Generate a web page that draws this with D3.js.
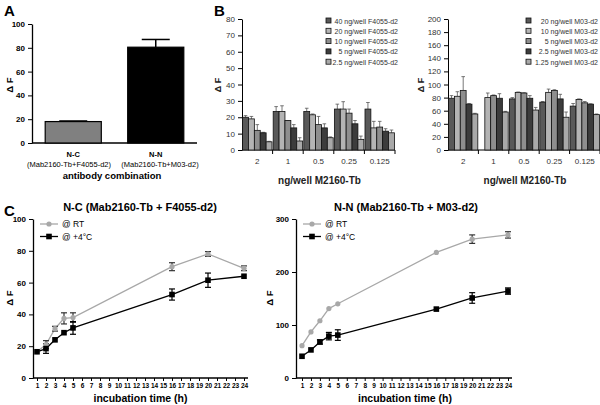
<!DOCTYPE html>
<html><head><meta charset="utf-8">
<script src="https://cdn.jsdelivr.net/npm/d3@7"></script>
<style>
body{margin:0;background:#fff}
svg{display:block;font-family:Arial,"Liberation Sans",Helvetica,sans-serif}
</style></head>
<body><svg id="c" width="600" height="405"></svg>
<script>
// ---------- DATA ----------
// Panel A
const aCategories = ["N-C", "N-N"];
const aSubLabels = ["(Mab2160-Tb+F4055-d2)", "(Mab2160-Tb+M03-d2)"];
const aValues = [18, 80.5];
const aErrors = [18.5, 87];
const aTicks = [0, 20, 40, 60, 80, 100];

// Panel B
const bGroups = ["2", "1", "0.5", "0.25", "0.125"];
const bLeftSeries = ["40 ng/well F4055-d2", "20 ng/well F4055-d2", "10 ng/well F4055-d2", "5 ng/well F4055-d2", "2.5 ng/well F4055-d2"];
// values[series][group]
const bLeftValues = [
  [20, 23.5, 23.5, 25, 25],
  [19, 23.5, 21.5, 25, 13.5],
  [12, 18, 15.5, 22.5, 14],
  [10.5, 13.5, 13.5, 16, 11.5],
  [5, 5.5, 7.5, 6.5, 10.5]
];
const bLeftErrTop = [
  [21, 26.5, 25.5, 28, 29],
  [20.5, 27, 22, 29.5, 17.5],
  [15.5, 18, 20.5, 25, 17.5],
  [10.8, 15.5, 16, 18, 13],
  [5.3, 7.5, 8, 8.5, 12.2]
];
const bLeftTicks = [0, 10, 20, 30, 40, 50, 60, 70, 80];

const bRightSeries = ["20 ng/well M03-d2", "10 ng/well M03-d2", "5 ng/well M03-d2", "2.5 ng/well M03-d2", "1.25 ng/well M03-d2"];
const bRightValues = [
  [79, null, 78, 73, 67],
  [82, 80, 88, 88, 77],
  [91, 83, 87, 91, 72],
  [70, 79, 79, 78, 70],
  [55, 58, 61, 50, 54]
];
const bRightErrTop = [
  [83, null, 80, 74, 71],
  [89, 87, 88.5, 93, 78],
  [112, 84, 87.5, 92, 74],
  [71, 86, 83, 85, 70.5],
  [56, 59, 65, 58, 55]
];
const bRightTicks = [0, 20, 40, 60, 80, 100, 120, 140, 160, 180, 200];
const bColors = ["#595959", "#b4b4b4", "#8e8e8e", "#3c3c3c", "#a9a9a9"];

// Panel C
const cHours = [1, 2, 3, 4, 5, 16, 20, 24];
const cHourTicks = d3.range(1, 25);
const cSeriesNames = ["@ RT", "@ +4°C"];
const cLeftRT = [16.5, 21, 31, 37.5, 38, 70, 78, 69];
const cLeftRTErr = [0.5, 2.5, 1.5, 3.5, 3, 2.5, 1.5, 1.5];
const cLeftCold = [16.5, 18.5, 24, 28.5, 31.5, 52.5, 61.5, 64];
const cLeftColdErr = [0.5, 3, 1, 0.5, 4, 3.5, 4.5, 1];
const cLeftTicks = [0, 20, 40, 60, 80, 100];
const cRightRT = [61, 87, 108, 131, 140, 237, 262, 270];
const cRightRTErr = [1, 1, 1, 1, 1, 1, 8, 6];
const cRightCold = [41, 53, 68, 79, 81, 130, 151, 164];
const cRightColdErr = [1, 1, 4, 7, 10, 1, 10, 6];
const cRightTicks = [0, 100, 200, 300];

// ---------- DRAW ----------
const svg = d3.select("#c");

function letter(t, x, y) {
  svg.append("text").attr("x", x).attr("y", y).attr("font-size", 15).attr("font-weight", "bold").text(t);
}
letter("A", 4, 16); letter("B", 214, 16); letter("C", 4, 216);

function styleAxis(g, size, weight, color) {
  g.selectAll("text").attr("font-size", size).attr("font-weight", weight).attr("fill", color)
    .attr("font-family", "Arial,'Liberation Sans',sans-serif");
  g.selectAll("line").attr("stroke", "#000");
  g.selectAll("path").attr("stroke", "#000");
}

// ----- Panel A -----
(function () {
  const y = d3.scaleLinear().domain([0, 100]).range([143, 24]);
  const x = d3.scaleBand().domain(aCategories).range([32, 197]).paddingInner(0.32).paddingOuter(0.16);
  const g = svg.append("g");
  const ya = g.append("g").attr("transform", "translate(32,0)")
    .call(d3.axisLeft(y).tickValues(aTicks).tickSize(4).tickSizeOuter(0).tickPadding(3));
  styleAxis(ya, 8, "bold", "#000");
  ya.select(".domain").attr("stroke-width", 1.3);
  g.append("line").attr("x1", 32).attr("x2", 197).attr("y1", 143).attr("y2", 143).attr("stroke", "#000").attr("stroke-width", 1.3);
  const fills = ["#808080", "#000000"];
  const labelX = [69, 160];
  aCategories.forEach((c, i) => {
    g.append("line").attr("x1", x(c) + x.bandwidth() / 2).attr("x2", x(c) + x.bandwidth() / 2)
      .attr("y1", y(aValues[i])).attr("y2", y(aErrors[i])).attr("stroke", "#000").attr("stroke-width", 1.5);
    g.append("line").attr("x1", x(c) + x.bandwidth() / 2 - 14).attr("x2", x(c) + x.bandwidth() / 2 + 14)
      .attr("y1", y(aErrors[i])).attr("y2", y(aErrors[i])).attr("stroke", "#000").attr("stroke-width", 1.5);
    g.append("rect").attr("x", x(c)).attr("width", x.bandwidth()).attr("y", y(aValues[i]))
      .attr("height", y(0) - y(aValues[i])).attr("fill", fills[i]).attr("stroke", "#000").attr("stroke-width", 1.2);
    const cx = x(c) + x.bandwidth() / 2;
    g.append("text").attr("x", cx).attr("y", 157).attr("text-anchor", "middle").attr("font-size", 7.5).attr("font-weight", "bold").text(c);
    g.append("text").attr("x", labelX[i]).attr("y", 167).attr("text-anchor", "middle").attr("font-size", 7.5).attr("fill", "#000").text(aSubLabels[i]);
  });
  g.append("text").attr("x", 112).attr("y", 178.5).attr("text-anchor", "middle").attr("font-size", 9.5).attr("font-weight", "bold").text("antibody combination");
  g.append("text").attr("transform", "translate(13,85) rotate(-90)").attr("text-anchor", "middle")
    .attr("font-size", 9.5).attr("font-weight", "bold").text("Δ F");
})();

// ----- Panel B -----
function panelB(opts) {
  const { x0, x1, yMax, ticks, values, errs, names, legX, legEnd, yLabX } = opts;
  const y = d3.scaleLinear().domain([0, yMax]).range([150, 19]);
  const x = d3.scaleBand().domain(bGroups).range([x0, x1]);
  const inner = d3.scaleBand().domain(d3.range(5)).range([0, x.bandwidth()]).paddingInner(0).paddingOuter(0.1);
  const g = svg.append("g");
  const ya = g.append("g").attr("transform", `translate(${x0},0)`)
    .call(d3.axisLeft(y).tickValues(ticks).tickSize(4).tickSizeOuter(0).tickPadding(3));
  styleAxis(ya, 8, "normal", "#333");
  g.append("line").attr("x1", x0).attr("x2", x1).attr("y1", 150).attr("y2", 150).attr("stroke", "#000").attr("stroke-width", 1);
  bGroups.forEach((grp, gi) => {
    if (gi > 0) g.append("line").attr("x1", x(grp)).attr("x2", x(grp)).attr("y1", 150).attr("y2", 154).attr("stroke", "#000");
    g.append("text").attr("x", x(grp) + x.bandwidth() / 2).attr("y", 164).attr("text-anchor", "middle")
      .attr("font-size", 8).attr("fill", "#333").text(grp);
  });
  g.append("line").attr("x1", x1).attr("x2", x1).attr("y1", 150).attr("y2", 154).attr("stroke", "#000");
  values.forEach((ser, si) => {
    ser.forEach((v, gi) => {
      if (v == null) return;
      const bx = x(bGroups[gi]) + inner(si);
      const bw = inner.bandwidth();
      const e = errs[si][gi];
      g.append("line").attr("x1", bx + bw / 2).attr("x2", bx + bw / 2).attr("y1", y(v)).attr("y2", y(e)).attr("stroke", "#555").attr("stroke-width", 0.8);
      g.append("line").attr("x1", bx + bw / 2 - 1.8).attr("x2", bx + bw / 2 + 1.8).attr("y1", y(e)).attr("y2", y(e)).attr("stroke", "#555").attr("stroke-width", 0.8);
      g.append("rect").attr("x", bx).attr("width", bw).attr("y", y(v)).attr("height", y(0) - y(v))
        .attr("fill", bColors[si]).attr("stroke", "#111").attr("stroke-width", 0.8);
    });
  });
  names.forEach((n, i) => {
    const yy = 23.5 + i * 10.3;
    g.append("rect").attr("x", legX).attr("y", yy - 5.5).attr("width", 5).attr("height", 5)
      .attr("fill", bColors[i]).attr("stroke", "#111").attr("stroke-width", 0.8);
    g.append("text").attr("x", legEnd).attr("y", yy).attr("text-anchor", "end").attr("font-size", 7).attr("fill", "#333").text(n);
  });
  g.append("text").attr("x", (x0 + x1) / 2 + 1).attr("y", 184).attr("text-anchor", "middle")
    .attr("font-size", 10).attr("font-weight", "bold").attr("fill", "#222").text("ng/well M2160-Tb");
  g.append("text").attr("transform", `translate(${yLabX},85) rotate(-90)`).attr("text-anchor", "middle")
    .attr("font-size", 9).attr("font-weight", "bold").attr("fill", "#222").text("Δ F");
}
panelB({ x0: 242, x1: 395, yMax: 80, ticks: bLeftTicks, values: bLeftValues, errs: bLeftErrTop, names: bLeftSeries, legX: 326, legEnd: 398, yLabX: 221 });
panelB({ x0: 448, x1: 600, yMax: 200, ticks: bRightTicks, values: bRightValues, errs: bRightErrTop, names: bRightSeries, legX: 526, legEnd: 598, yLabX: 424 });

// ----- Panel C -----
function panelC(opts) {
  const { ax, xr, yMax, ticks, rt, rtErr, cold, coldErr, title, titleX, yLabX } = opts;
  const x = d3.scaleLinear().domain([1, 24]).range(xr);
  const y = d3.scaleLinear().domain([0, yMax]).range([378, 219]);
  const g = svg.append("g");
  g.append("text").attr("x", titleX).attr("y", 211).attr("text-anchor", "middle").attr("font-size", 11).attr("font-weight", "bold").text(title);
  const ya = g.append("g").attr("transform", `translate(${ax},0)`)
    .call(d3.axisLeft(y).tickValues(ticks).tickSize(4).tickSizeOuter(0).tickPadding(3));
  styleAxis(ya, 8, "bold", "#000");
  ya.select(".domain").attr("stroke-width", 1.3);
  const xa = g.append("g").attr("transform", "translate(0,378)")
    .call(d3.axisBottom(x).tickValues(cHourTicks).tickSize(3).tickPadding(2.5));
  xa.select(".domain").remove();
  styleAxis(xa, 6.5, "bold", "#000");
  g.append("line").attr("x1", ax).attr("x2", xr[1] + 4).attr("y1", 378).attr("y2", 378).attr("stroke", "#000").attr("stroke-width", 1.3);
  const line = d3.line().x((d, i) => x(cHours[i])).y(d => y(d));
  function errs(vals, e, color) {
    vals.forEach((v, i) => {
      if (e[i] < 1.5) return;
      const cx = x(cHours[i]);
      g.append("line").attr("x1", cx).attr("x2", cx).attr("y1", y(v - e[i])).attr("y2", y(v + e[i])).attr("stroke", color).attr("stroke-width", 1.2);
      [v - e[i], v + e[i]].forEach(t => g.append("line").attr("x1", cx - 3).attr("x2", cx + 3).attr("y1", y(t)).attr("y2", y(t)).attr("stroke", color).attr("stroke-width", 1.2));
    });
  }
  g.append("path").datum(rt).attr("d", line).attr("fill", "none").attr("stroke", "#a8a8a8").attr("stroke-width", 1.3);
  g.append("path").datum(cold).attr("d", line).attr("fill", "none").attr("stroke", "#000").attr("stroke-width", 1.3);
  errs(rt, rtErr, "#333");
  errs(cold, coldErr, "#000");
  rt.forEach((v, i) => g.append("circle").attr("cx", x(cHours[i])).attr("cy", y(v)).attr("r", 2.6).attr("fill", "#a8a8a8"));
  cold.forEach((v, i) => g.append("rect").attr("x", x(cHours[i]) - 2.8).attr("y", y(v) - 2.8).attr("width", 5.6).attr("height", 5.6).attr("fill", "#000"));
  const lx = ax + 7;
  g.append("line").attr("x1", lx).attr("x2", lx + 18).attr("y1", 224).attr("y2", 224).attr("stroke", "#a8a8a8").attr("stroke-width", 1.3);
  g.append("circle").attr("cx", lx + 9).attr("cy", 224).attr("r", 2.6).attr("fill", "#a8a8a8");
  g.append("line").attr("x1", lx).attr("x2", lx + 18).attr("y1", 236.5).attr("y2", 236.5).attr("stroke", "#000").attr("stroke-width", 1.3);
  g.append("rect").attr("x", lx + 6.2).attr("y", 233.7).attr("width", 5.6).attr("height", 5.6).attr("fill", "#000");
  g.append("text").attr("x", lx + 22).attr("y", 227).attr("font-size", 8.5).text(cSeriesNames[0]);
  g.append("text").attr("x", lx + 22).attr("y", 239.5).attr("font-size", 8.5).text(cSeriesNames[1]);
  g.append("text").attr("x", (xr[0] + xr[1]) / 2).attr("y", 402).attr("text-anchor", "middle").attr("font-size", 10.5).attr("font-weight", "bold").text("incubation time (h)");
  g.append("text").attr("transform", `translate(${yLabX},298) rotate(-90)`).attr("text-anchor", "middle")
    .attr("font-size", 9.5).attr("font-weight", "bold").text("Δ F");
}
panelC({ ax: 33, xr: [37, 244], yMax: 100, ticks: cLeftTicks, rt: cLeftRT, rtErr: cLeftRTErr, cold: cLeftCold, coldErr: cLeftColdErr, title: "N-C (Mab2160-Tb + F4055-d2)", titleX: 140, yLabX: 13 });
panelC({ ax: 296, xr: [302, 508], yMax: 300, ticks: cRightTicks, rt: cRightRT, rtErr: cRightRTErr, cold: cRightCold, coldErr: cRightColdErr, title: "N-N (Mab2160-Tb + M03-d2)", titleX: 406, yLabX: 273 });
</script></body></html>
